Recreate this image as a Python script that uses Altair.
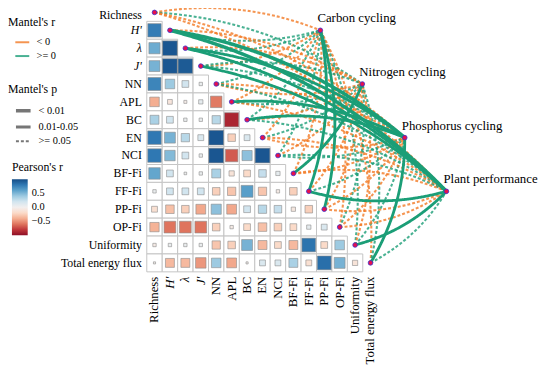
import altair as alt
import pandas as pd
import numpy as np

# ---------------- data ----------------
variables = ["Richness", "H'", "λ", "J'", "NN", "APL", "BC", "EN", "NCI",
             "BF-Fi", "FF-Fi", "PP-Fi", "OP-Fi", "Uniformity", "Total energy flux"]
italic_vars = ["H'", "λ", "J'"]

# Pearson's r, lower triangle (row i has i values, for columns 0..i-1)
pearson_r = [
    [],
    [0.78],
    [0.55, 0.95],
    [0.52, 0.95, 0.93],
    [0.74, 0.40, 0.20, 0.05],
    [-0.40, -0.10, -0.04, 0.08, -0.58],
    [0.35, 0.20, 0.05, 0.05, 0.30, -0.88],
    [0.80, 0.52, 0.30, 0.15, 0.95, -0.25, 0.15],
    [0.80, 0.48, 0.20, 0.05, 0.95, -0.68, 0.45, 0.95],
    [0.58, 0.20, 0.03, 0.05, 0.35, -0.12, -0.20, 0.25, 0.08],
    [0.05, 0.20, 0.20, 0.20, -0.25, -0.30, 0.62, -0.30, -0.05, -0.25],
    [-0.15, -0.32, -0.25, -0.42, 0.45, -0.42, 0.20, 0.30, 0.25, -0.08, -0.25],
    [-0.38, -0.60, -0.60, -0.60, -0.25, -0.05, -0.20, -0.32, -0.25, -0.20, 0.08, 0.15],
    [-0.05, 0.05, 0.05, 0.05, -0.30, -0.25, 0.52, -0.35, -0.20, -0.35, 0.82, -0.20, 0.40],
    [-0.02, -0.35, -0.35, -0.48, 0.40, -0.42, -0.02, 0.15, 0.15, 0.35, -0.15, 0.84, 0.52, -0.12],
]

env_nodes = ["Carbon cycling", "Nitrogen cycling", "Phosphorus cycling", "Plant performance"]
node_col = [10.75, 13.47, 16.22, 18.92]   # position in grid column units
node_row = [1.0, 4.0, 7.0, 10.0]          # position in grid row units

N, P = "< 0", ">= 0"
S1, S2, NS = "< 0.01", "0.01-0.05", ">= 0.05"
# Mantel's r sign and p class, one entry per variable (same order as variables)
mantel_sign = {
    "Carbon cycling":     [N, P, P, N, P, N, P, N, P, N, P, P, N, P, N],
    "Nitrogen cycling":   [P, N, N, P, N, P, N, P, N, P, N, N, P, N, P],
    "Phosphorus cycling": [N, P, P, P, N, P, P, N, P, N, P, N, N, P, P],
    "Plant performance":  [N, P, P, P, P, N, P, N, P, N, P, N, N, P, P],
}
mantel_p = {
    "Carbon cycling":     [NS, NS, NS, NS, NS, NS, NS, NS, NS, NS, S2, S2, NS, NS, NS],
    "Nitrogen cycling":   [NS, NS, NS, NS, NS, NS, NS, NS, NS, S2, NS, NS, NS, NS, NS],
    "Phosphorus cycling": [NS, S1, S2, NS, NS, S2, S2, NS, NS, NS, NS, NS, NS, NS, S2],
    "Plant performance":  [NS, S1, S2, S2, NS, NS, NS, NS, NS, NS, S2, NS, NS, S2, NS],
}

# ---------------- layout / scales ----------------
W, H = 542, 371
X_DOM = [-9.495, 25.115]
Y_DOM = [-0.0936, 20.336]
PX_X = W / (X_DOM[1] - X_DOM[0])
PX_Y = H / (Y_DOM[1] - Y_DOM[0])
FONT = "Liberation Serif"
C_NEG, C_POS = "#F37A25", "#1B9E77"
n = len(variables)

xs = alt.Scale(domain=X_DOM, nice=False, zero=False)
ys = alt.Scale(domain=Y_DOM, nice=False, zero=False, reverse=True)


def X(f="x"):
    return alt.X(f"{f}:Q", scale=xs, axis=None)


def Y(f="y"):
    return alt.Y(f"{f}:Q", scale=ys, axis=None)


# cells
cell_rows = []
for i in range(n):
    for j, r in enumerate(pearson_r[i]):
        cell_rows.append(dict(x=j, y=i, x0=j - 0.5, x1=j + 0.5, y0=i - 0.5, y1=i + 0.5,
                              r=r, absr=abs(r)))
cells = pd.DataFrame(cell_rows)

# diagonal + env nodes
dots = pd.DataFrame(
    [dict(x=i, y=i) for i in range(n)] +
    [dict(x=c, y=r) for c, r in zip(node_col, node_row)]
)

# links (quadratic curves computed in pixel space)
K = 0.07
link_rows = []
for ni, node in enumerate(env_nodes):
    for vi, var in enumerate(variables):
        x0, y0 = vi * PX_X, vi * PX_Y
        x1, y1 = node_col[ni] * PX_X, node_row[ni] * PX_Y
        dx, dy = x1 - x0, y1 - y0
        L = float(np.hypot(dx, dy))
        if dy > 0:
            nx, ny = dy / L, -dx / L
        else:
            nx, ny = -dy / L, dx / L
        cx = (x0 + x1) / 2 + nx * 2 * K * L
        cy = (y0 + y1) / 2 + ny * 2 * K * L
        for k, t in enumerate(np.linspace(0, 1, 40)):
            bx = (1 - t) ** 2 * x0 + 2 * (1 - t) * t * cx + t ** 2 * x1
            by = (1 - t) ** 2 * y0 + 2 * (1 - t) * t * cy + t ** 2 * y1
            link_rows.append(dict(x=bx / PX_X, y=by / PX_Y, k=k, link=f"{node}|{var}",
                                  sign=mantel_sign[node][vi], p=mantel_p[node][vi]))
links = pd.DataFrame(link_rows)

ylab = pd.DataFrame(dict(name=variables, x=[-0.5] * n, y=list(range(n)),
                         it=[v in italic_vars for v in variables],
                         top=[i == 0 for i in range(n)]))
xlab = pd.DataFrame(dict(name=variables, x=list(range(n)), y=[n - 0.5 + 0.27] * n,
                         it=[v in italic_vars for v in variables]))
nodelab = pd.DataFrame(dict(name=env_nodes, x=node_col, y=node_row))

# ---------------- marks ----------------
LEG = dict(titleFont=FONT, labelFont=FONT, titleFontSize=12, labelFontSize=10.5,
           titleFontWeight="normal", titleColor="black", labelColor="black", orient="none",
           padding=0)

rect = alt.Chart(cells).mark_rect(fill="white", stroke="#c4c4c4", strokeWidth=1).encode(
    x=X("x0"), x2="x1", y=Y("y0"), y2="y1")

squares = alt.Chart(cells).mark_square(filled=True, stroke="#8a8a8a", strokeWidth=0.6, opacity=1).encode(
    x=X(), y=Y(),
    size=alt.Size("absr:Q", scale=alt.Scale(domain=[0, 1], range=[0, 235]), legend=None),
    fill=alt.Fill("r:Q", scale=alt.Scale(scheme="redblue", domain=[-1, 1]),
                  legend=alt.Legend(title="Pearson's r", legendX=4, legendY=154,
                                    direction="vertical", gradientLength=57, gradientThickness=16,
                                    values=[-0.5, 0, 0.5], format=".1f", labelOffset=4,
                                    gradientStrokeWidth=0, titlePadding=5, **LEG)))

stroke_enc = alt.Stroke("sign:N", scale=alt.Scale(domain=[N, P], range=[C_NEG, C_POS]),
                        legend=alt.Legend(title="Mantel's r", legendX=0, legendY=6.5,
                                          symbolType="stroke", symbolSize=200, symbolStrokeWidth=2,
                                          symbolOffset=6, labelOffset=6, rowPadding=0, titlePadding=5,
                                          **LEG))
p_legend = alt.Legend(title="Mantel's p", legendX=0, legendY=75,
                      symbolType="stroke", symbolSize=220, symbolStrokeColor="#555555",
                      symbolOffset=6, labelOffset=6, rowPadding=0, titlePadding=5, **LEG)
sw_enc = alt.StrokeWidth("p:N", scale=alt.Scale(domain=[S1, S2, NS], range=[3.6, 2.1, 0.9]),
                         legend=p_legend)
sd_enc = alt.StrokeDash("p:N", scale=alt.Scale(domain=[S1, S2, NS], range=[[1, 0], [1, 0], [3, 2]]),
                        legend=p_legend)

base_links = alt.Chart(links).mark_line(strokeCap="butt").encode(
    x=X(), y=Y(), detail="link:N", order="k:Q",
    stroke=stroke_enc, strokeWidth=sw_enc, strokeDash=sd_enc)
dashed = base_links.transform_filter(alt.datum.p == NS).mark_line(strokeCap="butt", opacity=0.8)
solid = base_links.transform_filter(alt.datum.p != NS)

points = alt.Chart(dots).mark_point(filled=True, fill="#E8104A", stroke="#3a2fd0", strokeWidth=0.8,
                                    size=22, opacity=1, shape="circle").encode(x=X(), y=Y())


def ytext(flt, italic, dy=0):
    props = dict(align="right", baseline="middle", dx=-5, dy=dy, font=FONT, fontSize=12, color="black")
    if italic:
        props["fontStyle"] = "italic"
    return alt.Chart(ylab).transform_filter(flt).mark_text(**props).encode(x=X(), y=Y(), text="name:N")


ylab_top = ytext("datum.top", False, dy=3)
ylab_n = ytext("!datum.it && !datum.top", False)
ylab_i = ytext("datum.it", True)

xlab_n = alt.Chart(xlab).transform_filter("!datum.it").mark_text(
    align="right", baseline="middle", angle=270, font=FONT, fontSize=13, color="black").encode(
    x=X(), y=Y(), text="name:N")
xlab_i = alt.Chart(xlab).transform_filter("datum.it").mark_text(
    align="right", baseline="middle", angle=270, font=FONT, fontSize=13, fontStyle="italic", color="black").encode(
    x=X(), y=Y(), text="name:N")
nlab = alt.Chart(nodelab).mark_text(align="left", baseline="middle", dx=-3, dy=-12,
                                    font=FONT, fontSize=13, color="black").encode(
    x=X(), y=Y(), text="name:N")

chart = alt.layer(rect, squares, dashed, solid, points, ylab_top, ylab_n, ylab_i,
                  xlab_n, xlab_i, nlab).properties(
    width=W, height=H, padding=0, autosize=alt.AutoSizeParams(type="none")
).configure_view(stroke=None).configure_legend(
    titleFont=FONT, labelFont=FONT, titleFontSize=12, labelFontSize=10.5,
    titleFontWeight="normal", titleColor="black", labelColor="black"
)

chart.save("out.html", embed_options={"renderer": "svg", "actions": False})
